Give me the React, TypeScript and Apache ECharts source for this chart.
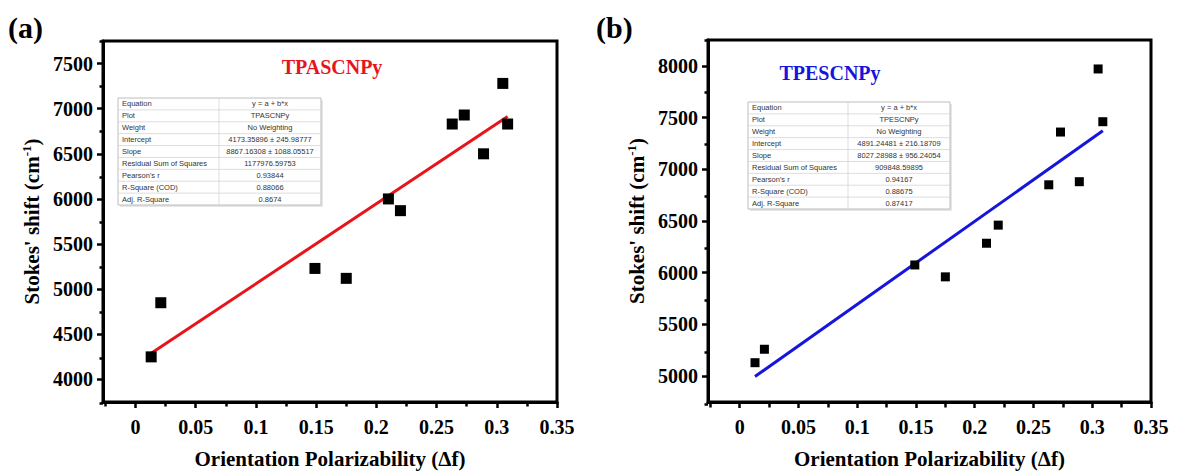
import React, { useEffect, useRef } from "react";
import * as echarts from "echarts";

// ---------- data ----------
const xA = [0.013, 0.021, 0.149, 0.175, 0.21, 0.22, 0.263, 0.273, 0.289, 0.305, 0.309];
const yA = [4250, 4850, 5230, 5120, 6000, 5870, 6830, 6930, 6500, 7280, 6830];
const xB = [0.013, 0.021, 0.149, 0.175, 0.21, 0.22, 0.263, 0.273, 0.289, 0.305, 0.309];
const yB = [5130, 5260, 6075, 5960, 6285, 6460, 6850, 7360, 6880, 7970, 7460];

// fitted line end points (x from data min to max, y = a + b*x)
const fitAX = [0.013, 0.309];
const fitAY = [4289, 6913];
const fitBX = [0.013, 0.309];
const fitBY = [4996, 7372];

const xMajor = [0, 0.05, 0.1, 0.15, 0.2, 0.25, 0.3, 0.35];
const xMinor = [-0.025, 0.025, 0.075, 0.125, 0.175, 0.225, 0.275, 0.325];
const yMajorA = [4000, 4500, 5000, 5500, 6000, 6500, 7000, 7500];
const yMinorA = [3750, 4250, 4750, 5250, 5750, 6250, 6750, 7250, 7750];
const yMajorB = [5000, 5500, 6000, 6500, 7000, 7500, 8000];
const yMinorB = [4750, 5250, 5750, 6250, 6750, 7250, 7750, 8250];

const tableLabels = [
  "Equation",
  "Plot",
  "Weight",
  "Intercept",
  "Slope",
  "Residual Sum of Squares",
  "Pearson's r",
  "R-Square (COD)",
  "Adj. R-Square",
];
const tableValuesA = [
  "y = a + b*x",
  "TPASCNPy",
  "No Weighting",
  "4173.35896 ± 245.98777",
  "8867.16308 ± 1088.05517",
  "1177976.59753",
  "0.93844",
  "0.88066",
  "0.8674",
];
const tableValuesB = [
  "y = a + b*x",
  "TPESCNPy",
  "No Weighting",
  "4891.24481 ± 216.18709",
  "8027.28988 ± 956.24054",
  "909848.59895",
  "0.94167",
  "0.88675",
  "0.87417",
];

// ---------- styling ----------
const SERIF = '"Liberation Serif", "Times New Roman", serif';
const SANS = '"Liberation Sans", Arial, sans-serif';
const X_MIN = -0.027;
const X_MAX = 0.35;

const zip = (xs: number[], ys: number[]) => xs.map((x, i) => [x, ys[i]]);
const plain = (v: number) => String(v);

function buildTable(x0: number, y0: number, w: number, h: number, split: number, values: string[]) {
  const n = tableLabels.length;
  const rh = h / n;
  const children: any[] = [];
  children.push({
    type: "rect",
    shape: { x: 2, y: 2, width: w, height: h },
    style: { fill: "#e6e6e6", stroke: null },
  });
  children.push({
    type: "rect",
    shape: { x: 0, y: 0, width: w, height: h },
    style: { fill: "#fff", stroke: "#bdbdbd", lineWidth: 1 },
  });
  for (let i = 1; i < n; i++) {
    children.push({
      type: "line",
      shape: { x1: 0, y1: i * rh, x2: w, y2: i * rh },
      style: { stroke: "#d4d4d4", lineWidth: 0.8 },
    });
  }
  children.push({
    type: "line",
    shape: { x1: split, y1: 0, x2: split, y2: h },
    style: { stroke: "#d4d4d4", lineWidth: 0.8 },
  });
  for (let i = 0; i < n; i++) {
    children.push({
      type: "text",
      x: 4,
      y: i * rh + rh / 2,
      style: {
        text: tableLabels[i],
        fontFamily: SANS,
        fontSize: 7.5,
        fill: "#333",
        textVerticalAlign: "middle",
        textAlign: "left",
      },
    });
    children.push({
      type: "text",
      x: split + (w - split) / 2,
      y: i * rh + rh / 2,
      style: {
        text: values[i],
        fontFamily: SANS,
        fontSize: 7.5,
        fill: "#333",
        textVerticalAlign: "middle",
        textAlign: "center",
      },
    });
  }
  return { type: "group", x: x0, y: y0, children, z: 10 };
}

const tickLabelStyle = {
  fontFamily: SERIF,
  fontWeight: "bold" as const,
  fontSize: 20,
  color: "#000",
};
const nameStyle = {
  fontFamily: SERIF,
  fontWeight: "bold" as const,
  fontSize: 21,
  color: "#000",
  rich: {
    sup: {
      fontFamily: SERIF,
      fontWeight: "bold" as const,
      fontSize: 13,
      color: "#000",
      verticalAlign: "top" as const,
      padding: [0, 0, 10, 0],
    },
  },
};

function mainX(gi: number) {
  return {
    type: "value",
    gridIndex: gi,
    min: X_MIN,
    max: X_MAX,
    position: "bottom",
    axisLine: { show: true, onZero: false, lineStyle: { color: "#000", width: 3 } },
    axisTick: { show: true, customValues: xMajor, length: 6, lineStyle: { color: "#000", width: 2.5 } },
    axisLabel: { show: true, customValues: xMajor, margin: 15, formatter: plain, ...tickLabelStyle },
    splitLine: { show: false },
    name: "Orientation Polarizability (Δf)",
    nameLocation: "middle",
    nameGap: 46,
    nameTextStyle: nameStyle,
  };
}
function minorX(gi: number) {
  return {
    type: "value",
    gridIndex: gi,
    min: X_MIN,
    max: X_MAX,
    position: "bottom",
    axisLine: { show: false, onZero: false },
    axisTick: { show: true, customValues: xMinor, length: 3.5, lineStyle: { color: "#000", width: 2.5 } },
    axisLabel: { show: false },
    splitLine: { show: false },
  };
}
function mainY(gi: number, min: number, max: number, major: number[]) {
  return {
    type: "value",
    gridIndex: gi,
    min,
    max,
    position: "left",
    axisLine: { show: true, onZero: false, lineStyle: { color: "#000", width: 3 } },
    axisTick: { show: true, customValues: major, length: 6, lineStyle: { color: "#000", width: 2.5 } },
    axisLabel: { show: true, customValues: major, margin: 10, formatter: plain, ...tickLabelStyle },
    splitLine: { show: false },
    name: "Stokes' shift (cm{sup|-1})",
    nameLocation: "middle",
    nameGap: 60,
    nameRotate: 90,
    nameTextStyle: nameStyle,
  };
}
function minorY(gi: number, min: number, max: number, minor: number[]) {
  return {
    type: "value",
    gridIndex: gi,
    min,
    max,
    position: "left",
    axisLine: { show: false, onZero: false },
    axisTick: { show: true, customValues: minor, length: 3.5, lineStyle: { color: "#000", width: 2.5 } },
    axisLabel: { show: false },
    splitLine: { show: false },
  };
}

export default function App() {
  const ref = useRef<HTMLDivElement>(null);
  useEffect(() => {
    if (!ref.current) return;
    const chart = echarts.init(ref.current, null, { renderer: "svg" });
    const gridA = { left: 103, top: 41, width: 454, height: 362 };
    const gridB = { left: 708, top: 40, width: 443, height: 364 };
    const option: any = {
      animation: false,
      backgroundColor: "#fff",
      grid: [
        { ...gridA, show: true, borderColor: "#000", borderWidth: 3, backgroundColor: "transparent" },
        { ...gridA, show: false },
        { ...gridB, show: true, borderColor: "#000", borderWidth: 3, backgroundColor: "transparent" },
        { ...gridB, show: false },
      ],
      xAxis: [mainX(0), minorX(1), mainX(2), minorX(3)],
      yAxis: [
        mainY(0, 3750, 7750, yMajorA),
        minorY(1, 3750, 7750, yMinorA),
        mainY(2, 4750, 8250, yMajorB),
        minorY(3, 4750, 8250, yMinorB),
      ],
      series: [
        {
          type: "line",
          xAxisIndex: 0,
          yAxisIndex: 0,
          data: zip(fitAX, fitAY),
          showSymbol: false,
          lineStyle: { color: "#e8141b", width: 3 },
          z: 2,
        },
        {
          type: "scatter",
          xAxisIndex: 0,
          yAxisIndex: 0,
          data: zip(xA, yA),
          symbol: "rect",
          symbolSize: 11,
          itemStyle: { color: "#000", opacity: 1 },
          z: 3,
        },
        {
          type: "line",
          xAxisIndex: 2,
          yAxisIndex: 2,
          data: zip(fitBX, fitBY),
          showSymbol: false,
          lineStyle: { color: "#1515dc", width: 3 },
          z: 2,
        },
        {
          type: "scatter",
          xAxisIndex: 2,
          yAxisIndex: 2,
          data: zip(xB, yB),
          symbol: "rect",
          symbolSize: 9,
          itemStyle: { color: "#000", opacity: 1 },
          z: 3,
        },
      ],
      graphic: [
        {
          type: "text",
          x: 8,
          y: 12,
          style: { text: "(a)", fontFamily: SERIF, fontWeight: "bold", fontSize: 30, fill: "#000" },
        },
        {
          type: "text",
          x: 596,
          y: 12,
          style: { text: "(b)", fontFamily: SERIF, fontWeight: "bold", fontSize: 30, fill: "#000" },
        },
        {
          type: "text",
          x: 332,
          y: 67,
          style: {
            text: "TPASCNPy",
            fontFamily: SERIF,
            fontWeight: "bold",
            fontSize: 20,
            fill: "#e8141b",
            textAlign: "center",
            textVerticalAlign: "middle",
          },
        },
        {
          type: "text",
          x: 830,
          y: 73,
          style: {
            text: "TPESCNPy",
            fontFamily: SERIF,
            fontWeight: "bold",
            fontSize: 20,
            fill: "#1515dc",
            textAlign: "center",
            textVerticalAlign: "middle",
          },
        },
        buildTable(118, 98, 203, 107, 101, tableValuesA),
        buildTable(748, 102, 202, 107, 100, tableValuesB),
      ],
    };
    chart.setOption(option);
    return () => chart.dispose();
  }, []);
  return (
    <div
      ref={ref}
      style={{ position: "fixed", left: 0, top: 0, width: 1180, height: 474, background: "#fff" }}
    />
  );
}
